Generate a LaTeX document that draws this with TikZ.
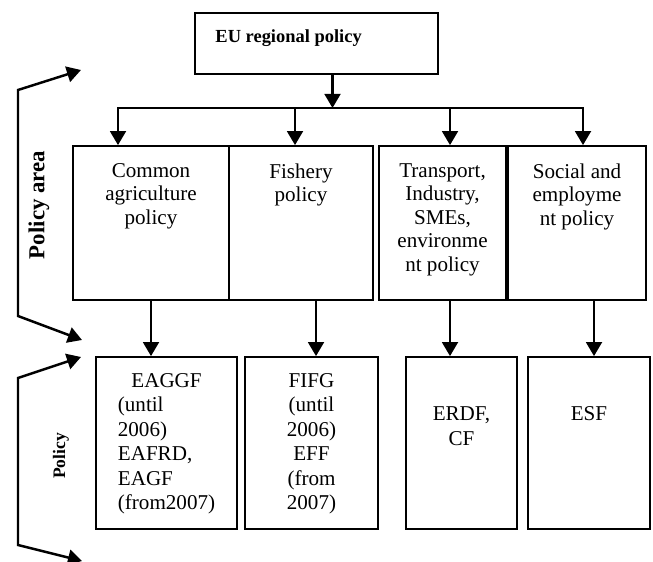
\documentclass[tikz,border=0pt]{standalone}
\usepackage{fontspec}
\setmainfont{Liberation Serif}
\usepackage{tikz}
\usetikzlibrary{arrows.meta}
\usetikzlibrary{positioning}

\tikzset{
    box/.style={draw, line width=1pt, inner sep=0pt},
    txt/.style={align=center, inner sep=0pt, font=\fontsize{12}{13.4}\selectfont},
    ftxt/.style={txt, font=\fontsize{12}{13.9}\selectfont},
    arr/.style={line width=1.4pt, -{Triangle[length=8pt, width=9pt]}},
    brk/.style={line width=1.4pt, {Triangle[length=8pt, width=9pt]}-{Triangle[length=8pt, width=9pt]}},
    link/.style={line width=1.4pt, line cap=rect},
}

\begin{document}
\begin{tikzpicture}
    \useasboundingbox (0,0) rectangle (13.06,-11.24);

    % Titolo
    \node[box, minimum width=4.86cm, minimum height=1.22cm] (eu) at (6.33,-0.87) {};
    \node[anchor=west, inner sep=0pt, font=\bfseries\fontsize{10.5}{12}\selectfont] (eut)
        at ([xshift=0.42cm, yshift=0.1cm]eu.west) {EU regional policy};

    % Policy area
    \node[box, minimum width=3.12cm, minimum height=3.08cm] (A1) at (3.02,-4.46) {};
    \node[box, minimum width=2.88cm, minimum height=3.08cm] (A2) at (6.02,-4.46) {};
    \node[box, minimum width=2.54cm, minimum height=3.08cm] (A3) at (8.85,-4.46) {};
    \node[box, minimum width=2.76cm, minimum height=3.08cm] (A4) at (11.54,-4.46) {};
    \node[txt, below=0.36cm of A1.north] (A1t) {Common\\agriculture\\policy};
    \node[txt, below=0.36cm of A2.north] (A2t) {Fishery\\policy};
    \node[txt, below=0.36cm of A3.north] (A3t) {Transport,\\Industry,\\SMEs,\\environme\\nt policy};
    \node[txt, below=0.36cm of A4.north] (A4t) {Social and\\employme\\nt policy};

    % Fondi
    \node[box, minimum width=2.82cm, minimum height=3.44cm] (F1) at (3.33,-8.86) {};
    \node[box, minimum width=2.66cm, minimum height=3.44cm] (F2) at (6.23,-8.86) {};
    \node[box, minimum width=2.22cm, minimum height=3.44cm] (F3) at (9.23,-8.86) {};
    \node[box, minimum width=2.44cm, minimum height=3.44cm] (F4) at (11.78,-8.86) {};
    \node[ftxt, align=left, below=0.34cm of F1.north] (F1t)
        {\hspace*{0.27cm}EAGGF\\(until\\2006)\\EAFRD,\\EAGF\\(from2007)};
    \node[ftxt, below=0.34cm of F2.north] (F2t) {FIFG\\(until\\2006)\\EFF\\(from\\2007)};
    \node[ftxt, below=1.01cm of F3.north] (F3t) {ERDF,\\CF};
    \node[ftxt, below=1.01cm of F4.north] (F4t) {ESF};

    % Frecce
    \coordinate (bar) at (0,-2.16);
    \draw[arr] ([xshift=0.32cm]eu.south) -- ([xshift=0.32cm]eu.south |- bar);
    \draw[link] ([xshift=-0.66cm]A1.north |- bar) -- ([xshift=0.12cm]A4.north |- bar);
    \draw[arr] ([xshift=-0.66cm]A1.north |- bar) -- ([xshift=-0.66cm]A1.north);
    \draw[arr] ([xshift=-0.12cm]A2.north |- bar) -- ([xshift=-0.12cm]A2.north);
    \draw[arr] ([xshift=0.15cm]A3.north |- bar) -- ([xshift=0.15cm]A3.north);
    \draw[arr] ([xshift=0.12cm]A4.north |- bar) -- ([xshift=0.12cm]A4.north);

    \draw[arr] (A1.south) -- (A1.south |- F1.north);
    \draw[arr] ([xshift=0.3cm]A2.south) -- ([xshift=0.3cm]A2.south |- F2.north);
    \draw[arr] ([xshift=0.15cm]A3.south) -- ([xshift=0.15cm]A3.south |- F3.north);
    \draw[arr] ([xshift=0.34cm]A4.south) -- ([xshift=0.34cm]A4.south |- F4.north);

    % Parentesi ed etichette
    \draw[brk] (1.64,-6.8) -- (0.36,-6.32) -- (0.36,-1.8) -- (1.62,-1.4);
    \draw[brk] (1.62,-7.14) -- (0.36,-7.56) -- (0.36,-10.9) -- (1.64,-11.22);
    \node[rotate=90, font=\bfseries\fontsize{13}{15}\selectfont] (arealbl) at (0.78,-4.1) {Policy area};
    \node[rotate=90, font=\bfseries\fontsize{10}{12}\selectfont] (pollbl) at (1.22,-9.12) {Policy};
\end{tikzpicture}
\end{document}
